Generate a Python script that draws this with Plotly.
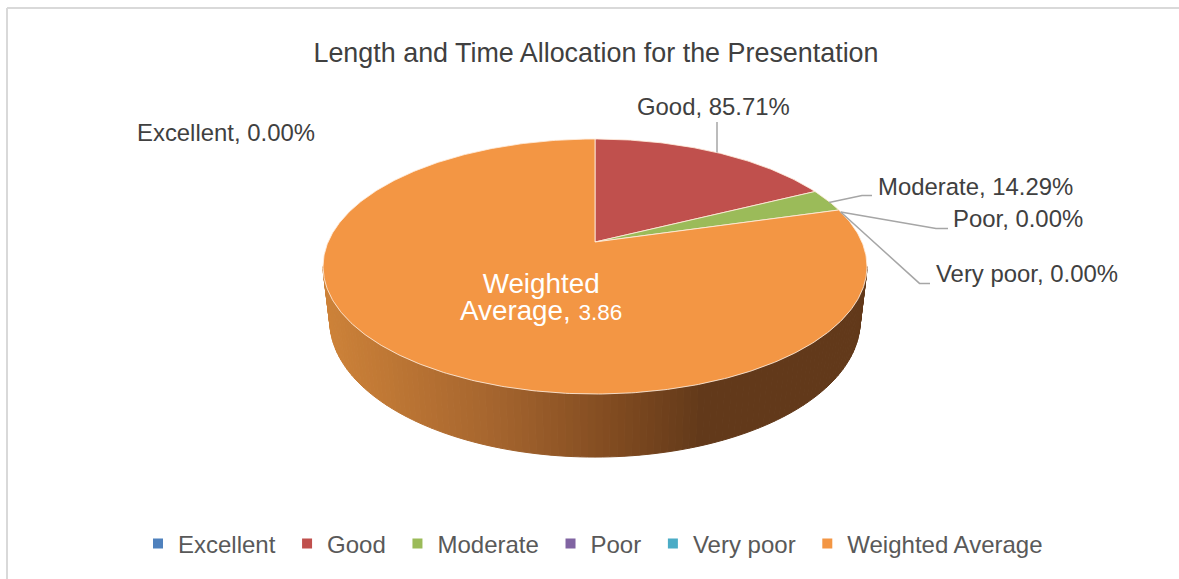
import numpy as np
import plotly.graph_objects as go

# ---- data ----
categories = ["Excellent", "Good", "Moderate", "Poor", "Very poor", "Weighted Average"]
values = [0.0, 0.8571, 0.1429, 0.0, 0.0, 3.86]
value_labels = ["0.00%", "85.71%", "14.29%", "0.00%", "0.00%", "3.86"]
colors = ["#4F81BD", "#C0504D", "#9BBB59", "#8064A2", "#4BACC6", "#F39644"]
title_text = "Length and Time Allocation for the Presentation"

# ---- view geometry of the tilted pie (pixel space of the hidden axes) ----
CX, CY = 595.0, 242.0
A, B, K = 266.9, 122.8, 0.1922
SX, SY, Y0, YMID = 0.975, 1.067, 321.0, 266.5
TEXT = "#404040"
FONT = "Liberation Sans, Arial, sans-serif"
RAMP_X = [325, 500, 620, 700, 870]
RAMP_C = [(206, 131, 57), (164, 100, 46), (127, 74, 32), (99, 58, 26), (98, 57, 26)]


def top(theta):
    u, v = np.sin(theta), np.cos(theta)
    d = 1 + K * v
    return CX + A * u / d, CY - B * v / d


def bottom(theta):
    x, y = top(theta)
    return CX + SX * (x - CX), Y0 + SY * (y - YMID)


def ramp(x):
    r = [np.interp(x, RAMP_X, [c[i] for c in RAMP_C]) for i in range(3)]
    return "rgb(%d,%d,%d)" % tuple(r)


fig = go.Figure()
total = sum(values)
edges = np.concatenate([[0.0], np.cumsum(values) / total * 2 * np.pi])

# side wall, shaded strip by strip (only the front part of the rim can be seen)
t_right = np.arccos(-K)
t_left = 2 * np.pi - t_right
for t0, t1 in zip(np.linspace(t_right, t_left, 121)[:-1], np.linspace(t_right, t_left, 121)[1:]):
    x0, y0 = top(t0)
    x1, y1 = top(t1)
    x2, y2 = bottom(t1)
    x3, y3 = bottom(t0)
    c = ramp((x0 + x1 + x2 + x3) / 4)
    fig.add_trace(go.Scatter(x=[x0, x1, x2, x3, x0], y=[y0, y1, y2, y3, y0], mode="lines",
                             fill="toself", fillcolor=c, line=dict(color=c, width=1),
                             showlegend=False, hoverinfo="skip"))

# top face: one wedge per non-empty category
for i, name in enumerate(categories):
    if values[i] <= 0:
        continue
    th = np.linspace(edges[i], edges[i + 1], max(3, int((edges[i + 1] - edges[i]) * 90)))
    x, y = top(th)
    fig.add_trace(go.Scatter(x=np.r_[CX, x, CX], y=np.r_[CY, y, CY], mode="lines", fill="toself",
                             fillcolor=colors[i], line=dict(color="rgba(255,236,220,0.85)", width=1),
                             name=name, showlegend=False))

# legend entries (trailing no-break space widens the gap between entries)
for name, c in zip(categories, colors):
    fig.add_trace(go.Scatter(x=[None], y=[None], mode="markers", name=name + "\u00a0",
                             marker=dict(symbol="square", size=10, color=c)))

# leader lines
leaders = [
    [(717, 122), (717, 152.5)],
    [(829, 202.6), (862, 195.5), (872, 195.5)],
    [(840.7, 212), (936, 228.6), (948, 228.6)],
    [(840.7, 212), (919.5, 283.4), (930, 283.4)],
]
shapes = []
for pts in leaders:
    path = "M" + " L".join("%g,%g" % p for p in pts)
    shapes.append(dict(type="path", path=path, xref="x", yref="y",
                       line=dict(color="#A6A6A6", width=1.5)))
# outer frame
shapes.append(dict(type="line", xref="x", yref="y", x0=7, x1=1179, y0=8, y1=8,
                   line=dict(color="#D9D9D9", width=2)))
shapes.append(dict(type="line", xref="x", yref="y", x0=7, x1=7, y0=8, y1=579,
                   line=dict(color="#D9D9D9", width=2)))

# data labels
label_pos = {0: (226, 132), 1: (713, 106), 2: (975, 186.5), 3: (1018, 218.5), 4: (1027, 273.5)}
annotations = []
for i, (lx, ly) in label_pos.items():
    annotations.append(dict(x=lx, y=ly, xref="x", yref="y", showarrow=False,
                            xanchor="center", yanchor="middle",
                            text=f"{categories[i]}, {value_labels[i]}",
                            font=dict(family=FONT, size=23.9, color=TEXT)))
big = "<span style='font-size:27.8px'>%s</span>"
small = "<span style='font-size:22.5px'>%s</span>"
annotations.append(dict(x=540.5, y=297, xref="x", yref="y", showarrow=False, align="center",
                        text=big % "Weighted" + "<br>" + big % "Average, " + small % value_labels[5],
                        font=dict(family=FONT, size=21, color="white")))

fig.update_layout(
    width=1179, height=579, margin=dict(l=0, r=0, t=0, b=0),
    paper_bgcolor="white", plot_bgcolor="white",
    title=dict(text=title_text, x=596 / 1179, xanchor="center", y=1 - 53 / 579, yanchor="middle",
               font=dict(family=FONT, size=26.9, color=TEXT)),
    xaxis=dict(range=[0, 1179], visible=False, fixedrange=True),
    yaxis=dict(range=[579, 0], visible=False, fixedrange=True),
    legend=dict(orientation="h", x=138 / 1179, xanchor="left", y=1 - 544 / 579, yanchor="middle",
                font=dict(family=FONT, size=24, color="#595959"), bgcolor="rgba(0,0,0,0)"),
    shapes=shapes, annotations=annotations,
)
fig.write_html("out.html", config=dict(displayModeBar=False),
               post_script="document.body.style.margin='0';document.body.style.overflow='hidden';")
